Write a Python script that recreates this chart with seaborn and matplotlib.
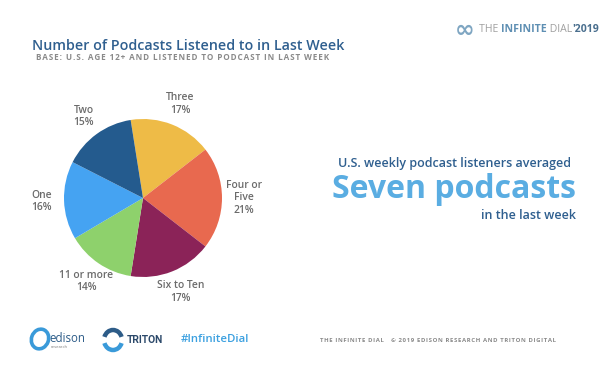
import matplotlib
matplotlib.use("Agg")
import matplotlib.pyplot as plt
from matplotlib.patches import Ellipse, Arc
import seaborn as sns

# data
categories = ["Three", "Four or\nFive", "Six to Ten", "11 or more", "One", "Two"]
shares = [17, 21, 17, 14, 16, 15]
slice_colors = ["#EEBB47", "#E8694F", "#8B2358", "#8ED16C", "#45A3F2", "#245B8E"]

title = "Number of Podcasts Listened to in Last Week"
subtitle = "BASE: U.S. AGE 12+ AND LISTENED TO PODCAST IN LAST WEEK"
footer = "THE INFINITE DIAL   \u00a9 2019 EDISON RESEARCH AND TRITON DIGITAL"


def spaced(s):
    # letter-spaced caps, like the slide
    return "\u200a".join(s)


sns.set_theme(style="white")
plt.rcParams['font.family'] = ['Open Sans', 'DejaVu Sans']

fig = plt.figure(figsize=(6, 3.72), dpi=100)
fig.patch.set_facecolor("white")

# pie centred near (143, 198) px, radius ~79 px
R = 79
ax = fig.add_axes([(143 - R) / 600, (372 - 198 - R) / 372, 2 * R / 600, 2 * R / 372])
pal = sns.color_palette(slice_colors)
labels = [f"{c}\n{v}%" for c, v in zip(categories, shares)]
wedges, texts = ax.pie(shares, labels=labels, colors=pal, startangle=99,
                       counterclock=False, labeldistance=1.28,
                       wedgeprops=dict(linewidth=0),
                       textprops=dict(fontsize=7.4, color="#6B6B6B",
                                      fontweight="semibold", linespacing=1.15))
for t in texts:
    t.set_ha("center")
    t.set_va("center")
ax.set_xlim(-1, 1)
ax.set_ylim(-1, 1)
ax.axis("off")

# titles
fig.text(32 / 600, 1 - 46 / 372, title, fontsize=10.3, color="#2F5F8F",
         fontweight="semibold", va="center", ha="left")
fig.text(36 / 600, 1 - 58 / 372, spaced(subtitle), fontsize=5.9, color="#8A8A8A",
         fontweight="bold", va="center", ha="left")

# right hand callout
fig.text(454 / 600, 1 - 163 / 372, "U.S. weekly podcast listeners averaged",
         fontsize=9.0, color="#2F5F8F", fontweight="semibold", ha="center", va="center")
fig.text(454 / 600, 1 - 190 / 372, "Seven podcasts", fontsize=23,
         color="#5AADE2", fontweight="bold", ha="center", va="center")
fig.text(576 / 600, 1 - 215 / 372, "in the last week", fontsize=9.0,
         color="#2F5F8F", fontweight="semibold", ha="right", va="center")

# top right brand, pieces chained one after another
fig.text(455 / 600, 1 - 30 / 372, "\u221e", fontsize=17, color="#7FA6C2",
         fontweight="bold", va="center", ha="left", family="DejaVu Sans")
prev = fig.text(479 / 600, 1 - 30 / 372, "THE ", fontsize=7.6, color="#A0A0A0",
                va="center", ha="left")
for txt, col, w in [("INFINITE", "#5E8FB3", "bold"), (" DIAL", "#A0A0A0", "normal"),
                    ("'2019", "#4A6F8E", "bold")]:
    prev = fig.add_artist(matplotlib.text.Annotation(
        txt, xy=(1, 0), xycoords=prev, fontsize=7.6, color=col,
        fontweight=w, va="bottom", ha="left", annotation_clip=False))

# footer logos and text
fax = fig.add_axes([0, 0, 1, 1], facecolor="none")
fax.set_xlim(0, 600)
fax.set_ylim(372, 0)
fax.axis("off")
fax.add_patch(Ellipse((40, 339), 17, 20, angle=20, fill=False, lw=2.6, color="#3A9AD9"))
fax.text(49, 339, "edison", fontsize=8.3, color="#2D5C88", va="center", ha="left")
fax.text(51, 347, "research", fontsize=3, color="#7A7A7A", va="center", ha="left")
fax.add_patch(Arc((113, 340), 18, 20, theta1=200, theta2=340, lw=3.2, color="#2D5C88"))
fax.add_patch(Arc((113, 340), 18, 20, theta1=20, theta2=160, lw=3.2, color="#3A9AD9"))
fax.text(127, 340, "TRITON", fontsize=7.4, color="#2D4A6B", fontweight="bold",
         va="center", ha="left", family="Roboto")
fax.text(181, 340, "#InfiniteDial", fontsize=8.2, color="#3BA0E0",
         fontweight="semibold", va="center", ha="left")
fax.text(320, 340, spaced(footer), fontsize=4.35, color="#8A8A8A",
         fontweight="bold", va="center", ha="left")

fig.savefig("out.png", dpi=100, facecolor="white")
